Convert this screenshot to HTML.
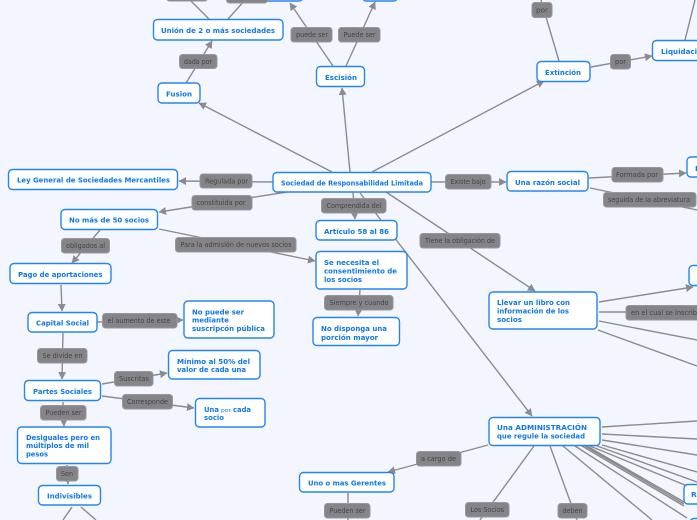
<!DOCTYPE html>
<html><head><meta charset="utf-8"><style>
html,body{margin:0;padding:0;background:#f4f6ff;width:697px;height:520px;overflow:hidden}
svg{display:block}
.l{stroke:#8b8b8f;stroke-width:1.4;fill:none}
.a{marker-end:url(#m)}
.n{fill:#fff;stroke:#2585ee;stroke-width:1.4}
.g{fill:#858589;stroke:#98989c;stroke-width:1}
.t{font:bold 7.400px "DejaVu Sans",sans-serif;fill:#0f78e6}
.s{font:7px "DejaVu Sans",sans-serif;fill:#444446}
</style></head><body>
<svg width="697" height="520" viewBox="0 0 697 520" xmlns="http://www.w3.org/2000/svg">
<defs><marker id="m" markerUnits="userSpaceOnUse" markerWidth="9" markerHeight="9" refX="7" refY="4" orient="auto"><path d="M0 0L7.500 4L0 8z" fill="#8b8b8f"/></marker></defs>
<rect width="697" height="520" fill="#f4f6ff"/>
<path class="l a" d="M332 172L199 103"/>
<path class="l a" d="M350 172L342 88"/>
<path class="l a" d="M372 172L544 81"/>
<path class="l a" d="M273 182L179 181"/>
<path class="l a" d="M287 192L159 212"/>
<path class="l a" d="M159 229L315 261"/>
<path class="l a" d="M100 230L72 263"/>
<path class="l a" d="M353 192L355 219"/>
<path class="l a" d="M360 193L532 416"/>
<path class="l a" d="M386 192L535 291"/>
<path class="l a" d="M431 182L506 182"/>
<path class="l a" d="M589 178L686 173"/>
<path class="l" d="M590 188L697 210"/>
<path class="l" d="M559 61L541 0"/>
<path class="l a" d="M591 67L652 56"/>
<path class="l" d="M685 40L695 0"/>
<path class="l a" d="M333 66L290 3"/>
<path class="l a" d="M346 66L375 2"/>
<path class="l" d="M209 19L190 0M228 19L245 0"/>
<path class="l a" d="M186 83L212 41"/>
<path class="l a" d="M61 285L62 311"/>
<path class="l a" d="M97 322L183 320"/>
<path class="l a" d="M63 333L62 379"/>
<path class="l a" d="M102 384L167 373"/>
<path class="l a" d="M102 396L194 408"/>
<path class="l a" d="M63 402L64 426"/>
<path class="l a" d="M67 465L68 484"/>
<path class="l" d="M72 507L63 520M81 507L96 520"/>
<path class="l a" d="M360 290L358 316"/>
<path class="l a" d="M599 302L693 287"/>
<path class="l" d="M599 312L697 312M599 321L697 340M598 330L697 366"/>
<path class="l" d="M602 427L697 421M602 434L697 439M602 440L697 455M602 445L697 472M597 446L697 482M590 446L697 490M587 446L684 502M585 446L684 504M582 446L684 506M575 446L687 518M563 446L652 520"/>
<path class="l" d="M534 446L480 520M550 446L577 520"/>
<path class="l a" d="M488 445L388 472"/>
<path class="l" d="M348 493L348 520"/>

<rect class="n" x="153.500" y="19.500" width="129.500" height="20.500" rx="4"/>
<rect class="n" x="158" y="83" width="42" height="20" rx="4"/>
<rect class="n" x="8.500" y="169.500" width="169" height="20" rx="4"/>
<rect class="n" x="273" y="172.500" width="158" height="19.500" rx="4"/>
<rect class="n" x="61" y="209.500" width="96.500" height="20" rx="4"/>
<rect class="n" x="316.500" y="66.500" width="48" height="20" rx="4"/>
<rect class="n" x="316" y="220.500" width="81" height="19.500" rx="4"/>
<rect class="n" x="316" y="251.500" width="91" height="37.500" rx="4"/>
<rect class="n" x="313" y="317.500" width="86.500" height="28" rx="4"/>
<rect class="n" x="537" y="61.500" width="53" height="20" rx="4"/>
<rect class="n" x="652.500" y="40.500" width="60" height="20" rx="4"/>
<rect class="n" x="507" y="171.500" width="81" height="19.500" rx="4"/>
<rect class="n" x="687" y="157" width="30" height="20" rx="4"/>
<rect class="n" x="689" y="265.500" width="30" height="20" rx="4"/>
<rect class="n" x="489" y="292" width="108" height="37" rx="4"/>
<rect class="n" x="489" y="417.500" width="111" height="28" rx="4"/>
<rect class="n" x="10" y="263.500" width="101" height="20" rx="4"/>
<rect class="n" x="28" y="312.500" width="69" height="19.500" rx="4"/>
<rect class="n" x="184" y="301" width="90" height="37" rx="4"/>
<rect class="n" x="168.500" y="350.500" width="91.500" height="28.500" rx="4"/>
<rect class="n" x="24.500" y="380.500" width="76" height="20" rx="4"/>
<rect class="n" x="195.500" y="398.500" width="69.500" height="28.500" rx="4"/>
<rect class="n" x="17.500" y="427" width="93.500" height="36.500" rx="4"/>
<rect class="n" x="38.500" y="485.500" width="62" height="19.500" rx="4"/>
<rect class="n" x="299.500" y="472.500" width="94.500" height="19.500" rx="4"/>
<rect class="n" x="684" y="484.500" width="30" height="19.500" rx="4"/>
<rect class="n" x="690" y="518.500" width="30" height="10" rx="4"/>
<rect class="n" x="260.500" y="-20" width="42.500" height="21" rx="4"/>
<rect class="n" x="362.500" y="-20" width="35" height="21" rx="4"/>

<rect class="g" x="166.500" y="-12" width="41" height="13" rx="3"/>
<rect class="g" x="226.500" y="-12" width="41" height="15" rx="3"/>
<rect class="g" x="179.500" y="54.500" width="37.500" height="14" rx="3"/>
<rect class="g" x="200" y="174" width="52" height="14" rx="3"/>
<rect class="g" x="192" y="195.500" width="60" height="14.500" rx="3"/>
<rect class="g" x="61.500" y="238.500" width="48" height="14.500" rx="3"/>
<rect class="g" x="175.500" y="237.500" width="120.500" height="14.500" rx="3"/>
<rect class="g" x="445.500" y="174.500" width="45.500" height="14.500" rx="3"/>
<rect class="g" x="321.500" y="198.500" width="64.500" height="14.500" rx="3"/>
<rect class="g" x="420" y="233.500" width="80" height="14.500" rx="3"/>
<rect class="g" x="612" y="167.500" width="51" height="14.500" rx="3"/>
<rect class="g" x="603.500" y="192.500" width="92.500" height="14.500" rx="3"/>
<rect class="g" x="532" y="2.500" width="20" height="15" rx="3"/>
<rect class="g" x="610.500" y="54.500" width="20" height="14.500" rx="3"/>
<rect class="g" x="291" y="27.500" width="41" height="14.500" rx="3"/>
<rect class="g" x="338.500" y="27.500" width="41.500" height="14.500" rx="3"/>
<rect class="g" x="102.500" y="313.500" width="74.500" height="14.500" rx="3"/>
<rect class="g" x="37.500" y="348.500" width="49.500" height="14.500" rx="3"/>
<rect class="g" x="114.500" y="371.500" width="38.500" height="14.500" rx="3"/>
<rect class="g" x="122.500" y="394.500" width="50" height="14.500" rx="3"/>
<rect class="g" x="40.500" y="405.500" width="45.500" height="14.500" rx="3"/>
<rect class="g" x="56.500" y="466.500" width="21.500" height="14.500" rx="3"/>
<rect class="g" x="324.500" y="295.500" width="68.500" height="14.500" rx="3"/>
<rect class="g" x="626" y="305.500" width="90" height="14.500" rx="3"/>
<rect class="g" x="416.500" y="451.500" width="44.500" height="14.500" rx="3"/>
<rect class="g" x="465.500" y="502.500" width="43.500" height="14.500" rx="3"/>
<rect class="g" x="558" y="503.500" width="29" height="14.500" rx="3"/>
<rect class="g" x="324.500" y="503.500" width="45.500" height="14.500" rx="3"/>

<g class="t">
<text x="161" y="33" textLength="114" lengthAdjust="spacingAndGlyphs">Unión de 2 o más sociedades</text>
<text x="166" y="96.500" textLength="26" lengthAdjust="spacingAndGlyphs">Fusion</text>
<text x="17" y="182.500" textLength="153" lengthAdjust="spacingAndGlyphs">Ley General de Sociedades Mercantiles</text>
<text x="281" y="185.500" textLength="142" lengthAdjust="spacingAndGlyphs">Sociedad de Responsabilidad Limitada</text>
<text x="69" y="222.500" textLength="80" lengthAdjust="spacingAndGlyphs">No más de 50 socios</text>
<text x="325" y="80" textLength="32" lengthAdjust="spacingAndGlyphs">Escisión</text>
<text x="324" y="234" textLength="65" lengthAdjust="spacingAndGlyphs">Artículo 58 al 86</text>
<text x="324" y="265" textLength="55" lengthAdjust="spacingAndGlyphs">Se necesita el</text>
<text x="324" y="273.500" textLength="73" lengthAdjust="spacingAndGlyphs">consentimiento de</text>
<text x="324" y="282" textLength="38" lengthAdjust="spacingAndGlyphs">los socios</text>
<text x="321" y="331" textLength="66" lengthAdjust="spacingAndGlyphs">No disponga una</text>
<text x="321" y="340" textLength="57" lengthAdjust="spacingAndGlyphs">porción mayor</text>
<text x="545" y="75" textLength="36" lengthAdjust="spacingAndGlyphs">Extinción</text>
<text x="661" y="54" textLength="46" lengthAdjust="spacingAndGlyphs">Liquidación</text>
<text x="515" y="185" textLength="65" lengthAdjust="spacingAndGlyphs">Una razón social</text>
<text x="695" y="171">L</text>
<text x="497" y="305" textLength="73" lengthAdjust="spacingAndGlyphs">Llevar un libro con</text>
<text x="497" y="313.500" textLength="72" lengthAdjust="spacingAndGlyphs">información de los</text>
<text x="497" y="322" textLength="25" lengthAdjust="spacingAndGlyphs">socios</text>
<text x="497" y="430" textLength="90" lengthAdjust="spacingAndGlyphs">Una ADMINISTRACIÓN</text>
<text x="497" y="438.500" textLength="88" lengthAdjust="spacingAndGlyphs">que regule la sociedad</text>
<text x="18" y="277" textLength="84.500" lengthAdjust="spacingAndGlyphs">Pago de aportaciones</text>
<text x="36" y="325.500" textLength="53" lengthAdjust="spacingAndGlyphs">Capital Social</text>
<text x="192" y="314.500" textLength="52" lengthAdjust="spacingAndGlyphs">No puede ser</text>
<text x="192" y="322.500" textLength="37" lengthAdjust="spacingAndGlyphs">mediante</text>
<text x="192" y="331" textLength="73" lengthAdjust="spacingAndGlyphs">suscripcón pública</text>
<text x="177" y="364" textLength="73" lengthAdjust="spacingAndGlyphs">Mínimo al 50% del</text>
<text x="177" y="372" textLength="69" lengthAdjust="spacingAndGlyphs">valor de cada una</text>
<text x="33" y="394" textLength="59" lengthAdjust="spacingAndGlyphs">Partes Sociales</text>
<text x="204" y="412" textLength="15" lengthAdjust="spacingAndGlyphs">Una</text>
<text x="221" y="412" style="font:5.500px 'DejaVu Sans',sans-serif" textLength="10" lengthAdjust="spacingAndGlyphs">por</text>
<text x="233" y="412" textLength="18" lengthAdjust="spacingAndGlyphs">cada</text>
<text x="204" y="420" textLength="20" lengthAdjust="spacingAndGlyphs">socio</text>
<text x="26" y="440" textLength="74" lengthAdjust="spacingAndGlyphs">Desiguales pero en</text>
<text x="26" y="448" textLength="63" lengthAdjust="spacingAndGlyphs">múltiplos de mil</text>
<text x="26" y="456.500" textLength="22" lengthAdjust="spacingAndGlyphs">pesos</text>
<text x="47" y="498.500" textLength="45" lengthAdjust="spacingAndGlyphs">Indivisibles</text>
<text x="308" y="485.500" textLength="78" lengthAdjust="spacingAndGlyphs">Uno o mas Gerentes</text>
<text x="691" y="497">R</text>
</g>
<g class="s">
<text x="184" y="64" textLength="28" lengthAdjust="spacingAndGlyphs">dada por</text>
<text x="205" y="183.500" textLength="43" lengthAdjust="spacingAndGlyphs">Regulada por</text>
<text x="196.500" y="205" textLength="49" lengthAdjust="spacingAndGlyphs">constituida por</text>
<text x="66" y="248" textLength="39" lengthAdjust="spacingAndGlyphs">obligados al</text>
<text x="180.500" y="247" textLength="111" lengthAdjust="spacingAndGlyphs">Para la admisión de nuevos socios</text>
<text x="450.500" y="184" textLength="35" lengthAdjust="spacingAndGlyphs">Existe bajo</text>
<text x="326.500" y="208" textLength="55" lengthAdjust="spacingAndGlyphs">Comprendida del</text>
<text x="425" y="243" textLength="70" lengthAdjust="spacingAndGlyphs">Tiene la obligación de</text>
<text x="616" y="177" textLength="42" lengthAdjust="spacingAndGlyphs">Formada por</text>
<text x="608" y="202" textLength="82" lengthAdjust="spacingAndGlyphs">seguida de la abreviatura</text>
<text x="536" y="12.500" textLength="12" lengthAdjust="spacingAndGlyphs">por</text>
<text x="615" y="64" textLength="11" lengthAdjust="spacingAndGlyphs">por</text>
<text x="296" y="37" textLength="32" lengthAdjust="spacingAndGlyphs">puede ser</text>
<text x="343.500" y="37" textLength="32" lengthAdjust="spacingAndGlyphs">Puede ser</text>
<text x="107.500" y="323" textLength="63" lengthAdjust="spacingAndGlyphs">el aumento de este</text>
<text x="42.500" y="358" textLength="40" lengthAdjust="spacingAndGlyphs">Se divide en</text>
<text x="119" y="381" textLength="30" lengthAdjust="spacingAndGlyphs">Suscritas</text>
<text x="127" y="404" textLength="41" lengthAdjust="spacingAndGlyphs">Corresponde</text>
<text x="45.500" y="415" textLength="36" lengthAdjust="spacingAndGlyphs">Pueden ser</text>
<text x="61" y="476" textLength="12" lengthAdjust="spacingAndGlyphs">Son</text>
<text x="329.500" y="305" textLength="59" lengthAdjust="spacingAndGlyphs">Siempre y cuando</text>
<text x="631" y="315" textLength="70" lengthAdjust="spacingAndGlyphs">en el cual se inscriba</text>
<text x="421" y="461" textLength="35" lengthAdjust="spacingAndGlyphs">a cargo de</text>
<text x="470.500" y="512" textLength="33.500" lengthAdjust="spacingAndGlyphs">Los Socios</text>
<text x="562.500" y="513" textLength="20" lengthAdjust="spacingAndGlyphs">deben</text>
<text x="329.500" y="513" textLength="36" lengthAdjust="spacingAndGlyphs">Pueden ser</text>
</g>
</svg>
</body></html>
